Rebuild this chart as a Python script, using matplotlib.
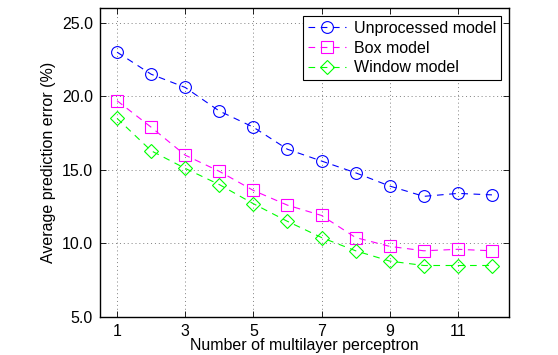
import matplotlib
matplotlib.use("Agg")
import matplotlib.pyplot as plt

plt.rcParams['font.family'] = ['Liberation Sans', 'DejaVu Sans']

x = list(range(1, 13))
unprocessed = [23.0, 21.5, 20.6, 19.0, 17.9, 16.4, 15.6, 14.8, 13.9, 13.2, 13.4, 13.3]
box = [19.7, 17.9, 16.0, 14.9, 13.6, 12.6, 11.9, 10.4, 9.8, 9.5, 9.6, 9.5]
window = [18.5, 16.3, 15.1, 14.0, 12.7, 11.5, 10.4, 9.5, 8.8, 8.5, 8.5, 8.5]
xticks = [1, 3, 5, 7, 9, 11]
yticks = [5.0, 10.0, 15.0, 20.0, 25.0]

fig = plt.figure(figsize=(5.58, 3.55), dpi=100)
ax = fig.add_axes([100/558, 1-317/355, 409/558, 309/355])

ls = (0, (6, 5))
ax.plot(x, unprocessed, color=(0, 0, 1), linestyle=ls, lw=0.8, marker='o',
        markersize=8.5, markerfacecolor='none', markeredgewidth=0.8, label='Unprocessed model')
ax.plot(x, box, color=(1, 0, 1), linestyle=ls, lw=0.8, marker='s',
        markersize=8.5, markerfacecolor='none', markeredgewidth=0.8, label='Box model')
ax.plot(x, window, color=(0, 1, 0), linestyle=ls, lw=0.8, marker='D',
        markersize=7.5, markerfacecolor='none', markeredgewidth=0.8, label='Window model')

ax.set_xlim(0.5, 12.5)
ax.set_ylim(5, 26)
ax.set_xticks(xticks)
ax.set_xticklabels([str(t) for t in xticks])
ax.set_yticks(yticks)
ax.set_yticklabels([f"{t:.1f}" for t in yticks])
ax.tick_params(direction='in', top=True, right=True, length=4, width=0.6,
               labelsize=11.5, pad=5)
ax.grid(True, linestyle=(0, (1, 3)), color='#808080', linewidth=0.7)
for s in ax.spines.values():
    s.set_linewidth(1.0)
    s.set_color('black')

ax.set_xlabel('Number of multilayer perceptron', fontsize=11.5, labelpad=-1)
ax.set_ylabel('Average prediction error (%)', fontsize=11.5, labelpad=4)

leg = ax.legend(loc='upper right', fontsize=11.5, fancybox=False, framealpha=1,
                edgecolor='black', borderaxespad=0.5, handlelength=2.4,
                borderpad=0.3, labelspacing=0.3, handletextpad=0.5)
leg.get_frame().set_linewidth(0.8)

fig.savefig('out.png', dpi=100)
